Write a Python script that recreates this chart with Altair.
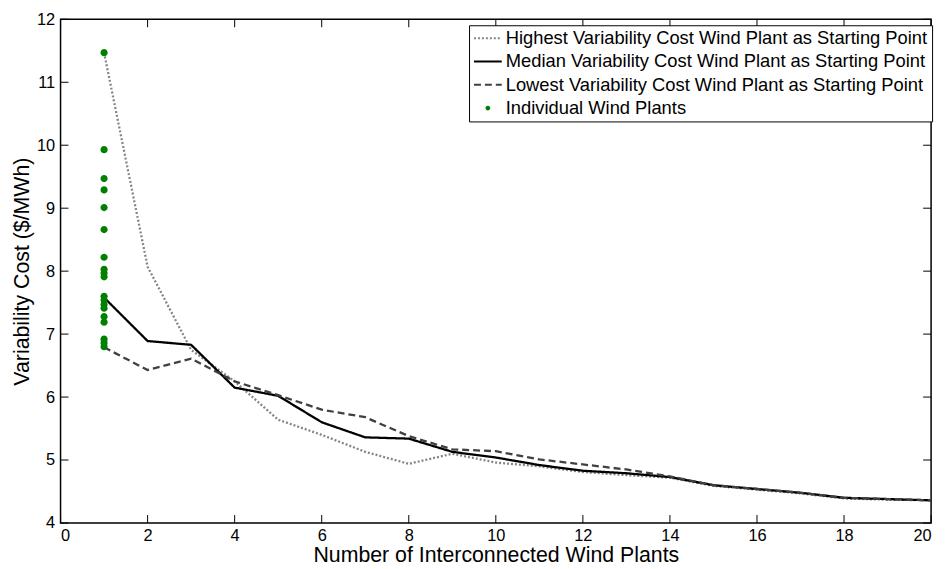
import altair as alt
import pandas as pd

# ---- data ----
plants = list(range(1, 21))
highest = [11.47, 8.07, 6.75, 6.25, 5.64, 5.40, 5.13, 4.94, 5.10, 4.96,
           4.90, 4.81, 4.76, 4.72, 4.59, 4.53, 4.47, 4.39, 4.37, 4.36]
median = [7.58, 6.89, 6.83, 6.15, 6.02, 5.60, 5.36, 5.34, 5.13, 5.04,
          4.92, 4.83, 4.79, 4.73, 4.60, 4.54, 4.48, 4.40, 4.38, 4.36]
lowest = [6.79, 6.43, 6.61, 6.25, 6.03, 5.80, 5.68, 5.38, 5.17, 5.14,
          5.01, 4.93, 4.85, 4.74, 4.60, 4.54, 4.48, 4.40, 4.38, 4.36]
individual = [11.47, 9.93, 9.47, 9.29, 9.01, 8.66, 8.22, 8.03, 7.97, 7.91,
              7.60, 7.54, 7.47, 7.41, 7.28, 7.19, 6.92, 6.86, 6.80]
x_ticks = list(range(0, 21, 2))
y_ticks = list(range(4, 13))

series_names = [
    "Highest Variability Cost Wind Plant as Starting Point",
    "Median Variability Cost Wind Plant as Starting Point",
    "Lowest Variability Cost Wind Plant as Starting Point",
    "Individual Wind Plants",
]

rows = []
for name, vals in zip(series_names[:3], [highest, median, lowest]):
    for xv, yv in zip(plants, vals):
        rows.append({"plants": xv, "cost": yv, "series": name})
lines_df = pd.DataFrame(rows)
dots_df = pd.DataFrame({"plants": [1] * len(individual), "cost": individual,
                        "series": series_names[3]})
xt_df = pd.DataFrame({"plants": x_ticks})
yt_df = pd.DataFrame({"cost": y_ticks})

W, H = 878, 508
TICK = 8
FONT = "Liberation Sans"

x_scale = alt.Scale(domain=[0, 20], nice=False, zero=False)
y_scale = alt.Scale(domain=[4, 12], nice=False, zero=False)
x_title = "Number of Interconnected Wind Plants"
y_title = "Variability Cost ($/MWh)"
x_axis = alt.Axis(values=x_ticks, ticks=False, domain=False, grid=False,
                  labelFontSize=16.5, labelPadding=5, labelColor="black",
                  titleFontSize=21.5, titleFontWeight="normal", titleColor="black",
                  titlePadding=0, labelFont=FONT, titleFont=FONT)
y_axis = alt.Axis(values=y_ticks, ticks=False, domain=False, grid=False,
                  labelFontSize=16.5, labelPadding=6, labelColor="black",
                  titleFontSize=21.5, titleFontWeight="normal", titleColor="black",
                  titlePadding=3, labelFont=FONT, titleFont=FONT)

X = alt.X("plants:Q", scale=x_scale, axis=x_axis, title=x_title)
Y = alt.Y("cost:Q", scale=y_scale, axis=y_axis, title=y_title)

dot_path = "M-0.1,0A0.1,0.1,0,1,1,0.1,0A0.1,0.1,0,1,1,-0.1,0Z"
color_scale = alt.Scale(domain=series_names,
                        range=["#858585", "#000000", "#404040", "#008000"])
dash_scale = alt.Scale(domain=series_names,
                       range=[[2, 2], [1, 0], [7, 4], [1, 0]])
shape_scale = alt.Scale(domain=series_names,
                        range=["stroke", "stroke", "stroke", dot_path])
legend = alt.Legend(title=None)

lines = alt.Chart(lines_df).mark_line(strokeWidth=2.3).encode(
    x=X, y=Y,
    color=alt.Color("series:N", scale=color_scale, legend=legend),
    strokeDash=alt.StrokeDash("series:N", scale=dash_scale, legend=legend),
    detail="series:N",
)

dots = alt.Chart(dots_df).mark_point(filled=True, size=5200, opacity=1,
                                     strokeWidth=0).encode(
    x=X, y=Y,
    color=alt.Color("series:N", scale=color_scale, legend=legend),
    shape=alt.Shape("series:N", scale=shape_scale, legend=legend),
)

tick_style = dict(color="black", strokeWidth=1)
xt_bottom = alt.Chart(xt_df).mark_rule(**tick_style).encode(
    x=X, y=alt.value(H), y2=alt.value(H - TICK))
xt_top = alt.Chart(xt_df).mark_rule(**tick_style).encode(
    x=X, y=alt.value(0), y2=alt.value(TICK))
yt_left = alt.Chart(yt_df).mark_rule(**tick_style).encode(
    y=Y, x=alt.value(0), x2=alt.value(TICK))
yt_right = alt.Chart(yt_df).mark_rule(**tick_style).encode(
    y=Y, x=alt.value(W - TICK), x2=alt.value(W))

chart = alt.layer(xt_bottom, xt_top, yt_left, yt_right, lines, dots).properties(
    width=W, height=H,
    autosize=alt.AutoSizeParams(type="none"),
    padding={"left": 53, "top": 9, "right": 11, "bottom": 44},
).configure_view(
    stroke="black", strokeWidth=1.5
).configure_legend(
    orient="none", legendX=412, legendY=6,
    strokeColor="black", fillColor="white", padding=4,
    labelFontSize=18.5, labelFont=FONT, labelColor="black", labelLimit=700,
    symbolSize=784, symbolStrokeWidth=2, clipHeight=18,
    rowPadding=4.5, labelOffset=3, symbolOffset=0,
    symbolType="stroke", cornerRadius=0,
)

chart.save("out.html", embed_options={"renderer": "svg", "actions": False})
